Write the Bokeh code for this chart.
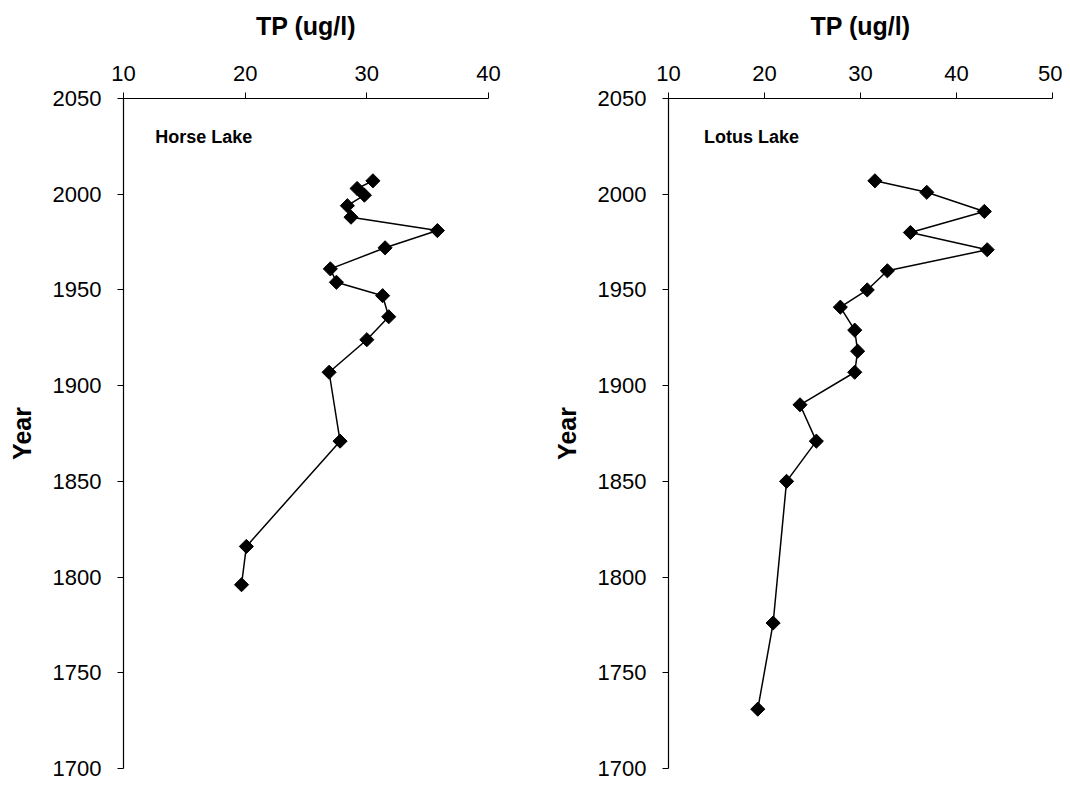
import numpy as np
from bokeh.plotting import figure
from bokeh.models import Range1d, FixedTicker, Label
from bokeh.layouts import row
from bokeh.embed import file_html
from bokeh.resources import INLINE

# ---- data ----
horse_year = [2007, 2003, 1999.5, 1994, 1988, 1981, 1972, 1961, 1954, 1947, 1936, 1924, 1907, 1871, 1816, 1796]
horse_tp = [30.5, 29.2, 29.8, 28.4, 28.7, 35.8, 31.5, 27.0, 27.5, 31.3, 31.8, 30.0, 26.9, 27.8, 20.1, 19.7]

lotus_year = [2007, 2001, 1991, 1980, 1971, 1960, 1950, 1941, 1929, 1918, 1907, 1890, 1871, 1850, 1776, 1731]
lotus_tp = [31.5, 36.9, 42.9, 35.2, 43.2, 32.8, 30.7, 27.9, 29.4, 29.7, 29.4, 23.7, 25.4, 22.3, 20.9, 19.3]

horse_xticks = [10, 20, 30, 40]
lotus_xticks = [10, 20, 30, 40, 50]
year_ticks = [1700, 1750, 1800, 1850, 1900, 1950, 2000, 2050]

FONT = "Liberation Sans"


def make_panel(tp, yr, xticks, name, width, bl, br, name_x):
    p = figure(width=width, height=782, output_backend="svg", toolbar_location=None,
               x_axis_location="above",
               x_range=Range1d(xticks[0], xticks[-1]), y_range=Range1d(1700, 2050),
               min_border_left=bl, min_border_right=br, min_border_top=98, min_border_bottom=14)
    p.outline_line_color = None
    p.xgrid.grid_line_color = None
    p.ygrid.grid_line_color = None
    p.background_fill_color = "white"
    p.border_fill_color = "white"

    p.xaxis.ticker = FixedTicker(ticks=xticks)
    p.yaxis.ticker = FixedTicker(ticks=year_ticks)
    for ax in (p.xaxis, p.yaxis):
        ax.axis_line_color = "black"
        ax.axis_line_width = 1.2
        ax.major_tick_line_color = "black"
        ax.major_tick_out = 6
        ax.major_tick_in = 0
        ax.minor_tick_line_color = None
        ax.major_label_text_font = FONT
        ax.major_label_text_font_size = "22px"
        ax.major_label_text_color = "black"
        ax.axis_label_text_font = FONT
        ax.axis_label_text_font_style = "bold"
        ax.axis_label_text_font_size = "25px"
        ax.axis_label_text_color = "black"
    p.xaxis.axis_label = "TP (ug/l)"
    p.xaxis.major_label_standoff = 12
    p.xaxis.axis_label_standoff = 23
    p.yaxis.axis_label = "Year"
    p.yaxis.major_label_standoff = 16
    p.yaxis.axis_label_standoff = 14

    p.line(tp, yr, line_color="black", line_width=1.5)
    p.scatter(tp, yr, marker="square", angle=np.pi / 4, size=10,
              fill_color="black", line_color="black")

    p.add_layout(Label(x=name_x, y=2030, text=name, text_font=FONT, text_font_style="bold",
                       text_font_size="18px", text_color="black", text_baseline="middle"))
    return p


p1 = make_panel(horse_tp, horse_year, horse_xticks, "Horse Lake", 540, 123, 52, 12.6)
p2 = make_panel(lotus_tp, lotus_year, lotus_xticks, "Lotus Lake", 522, 128, 10, 13.7)

layout = row(p1, p2)
open("out.html", "w").write(file_html(layout, INLINE))
